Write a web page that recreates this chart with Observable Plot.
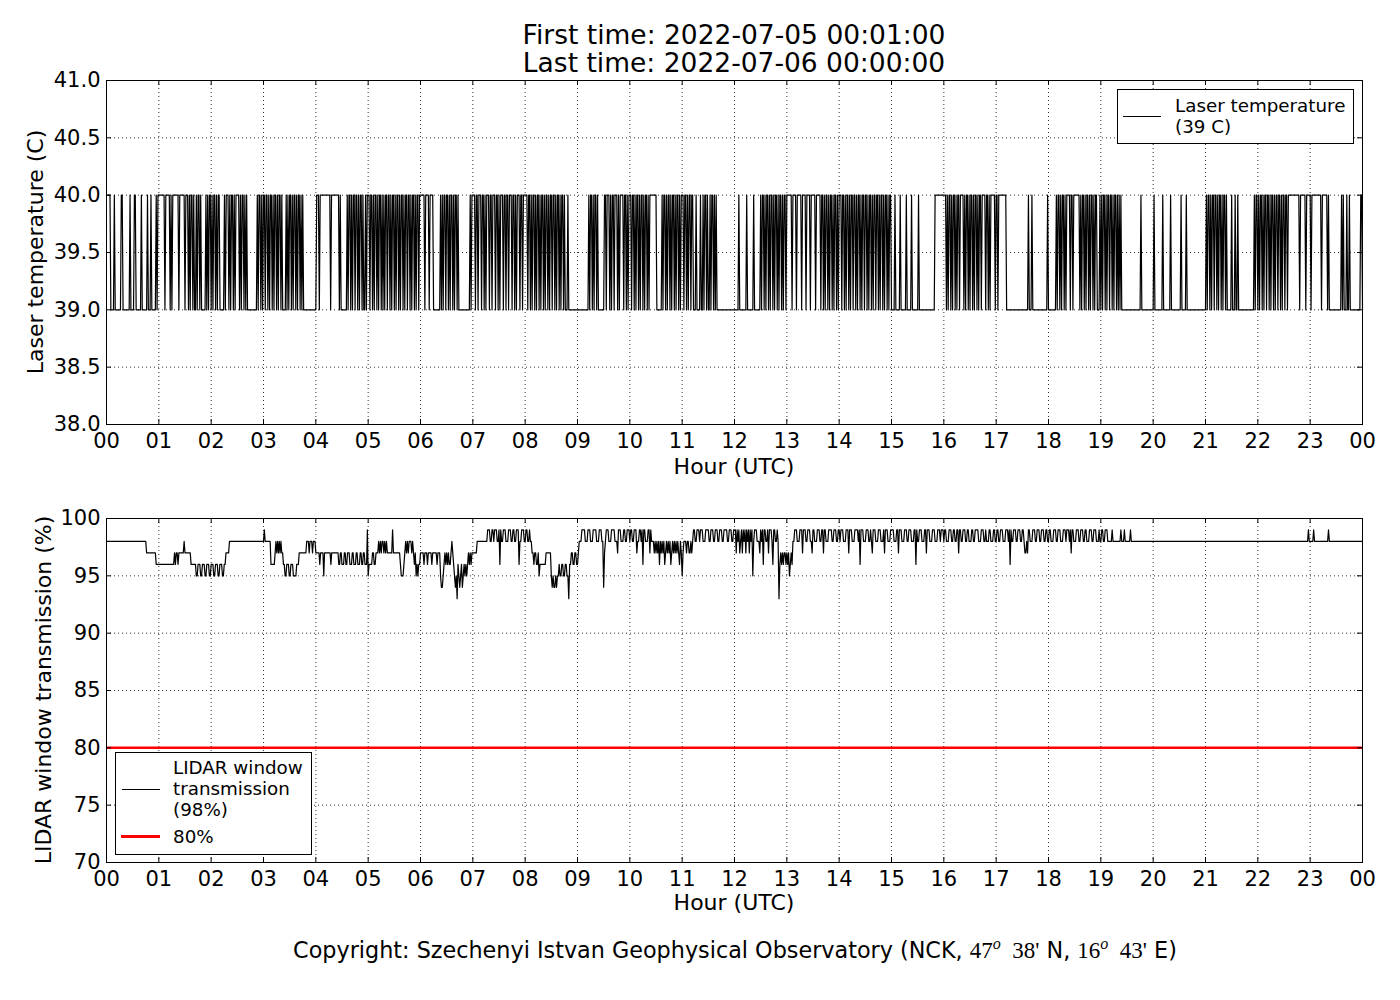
<!DOCTYPE html>
<html><head><meta charset="utf-8">
<script src="https://cdn.jsdelivr.net/npm/d3@7"></script>
<script src="https://cdn.jsdelivr.net/npm/@observablehq/plot@0.6"></script>
<style>
body{margin:0;background:#fff;font-family:"DejaVu Sans",sans-serif;color:#000;}
#wrap{position:relative;width:1400px;height:1000px;background:#fff;overflow:hidden;}
.abs{position:absolute;white-space:nowrap;}
.title{left:334px;width:800px;top:21px;text-align:center;font-size:26.5px;line-height:28px;}
.xlab{font-size:22px;transform:translate(-50%,-50%);}
.ylab{font-size:22px;transform:translate(-50%,-50%) rotate(-90deg);}
.legend{border:1px solid #000;background:#fff;box-sizing:border-box;}
.ltext{font-size:18.3px;line-height:21px;}
.foot{left:0;width:1470px;top:930px;text-align:center;font-size:22.3px;line-height:28px;}
.m{font-family:"Liberation Serif",serif;font-size:23px;}
.m sup{font-style:italic;font-size:16px;}
#p1{position:absolute;left:0;top:70px;}
#p2{position:absolute;left:0;top:500px;}
</style></head><body><div id="wrap">
<div class="abs title">First time: 2022-07-05 00:01:00<br>Last time: 2022-07-06 00:00:00</div>
<div id="p1"></div>
<div id="p2"></div>
<div class="abs xlab" style="left:734px;top:466px;">Hour (UTC)</div>
<div class="abs xlab" style="left:734px;top:902px;">Hour (UTC)</div>
<div class="abs ylab" style="left:35px;top:252px;">Laser temperature (C)</div>
<div class="abs ylab" style="left:43px;top:690px;">LIDAR window transmission (%)</div>
<div class="abs legend" style="left:1117px;top:89px;width:237px;height:55px;">
  <div class="abs" style="left:5px;top:26px;width:38px;height:0;border-top:1px solid #000;"></div>
  <div class="abs ltext" style="left:57px;top:5px;">Laser temperature<br>(39 C)</div>
</div>
<div class="abs legend" style="left:115px;top:752px;width:197px;height:103px;">
  <div class="abs" style="left:6px;top:36px;width:38px;height:0;border-top:1px solid #000;"></div>
  <div class="abs ltext" style="left:57px;top:4px;">LIDAR window<br>transmission<br>(98%)</div>
  <div class="abs" style="left:5px;top:82px;width:39px;height:0;border-top:3px solid #f00;"></div>
  <div class="abs ltext" style="left:57px;top:73px;">80%</div>
</div>
<div class="abs foot">Copyright: Szechenyi Istvan Geophysical Observatory (NCK, <span class="m">47<sup>o</sup>&nbsp;&nbsp;38'</span> N, <span class="m">16<sup>o</sup>&nbsp;&nbsp;43'</span> E)</div>
</div>
<script>
// Axis ticks
const xTickHours = [0,1,2,3,4,5,6,7,8,9,10,11,12,13,14,15,16,17,18,19,20,21,22,23,24];
const xTickLabels = ["00","01","02","03","04","05","06","07","08","09","10","11","12","13","14","15","16","17","18","19","20","21","22","23","00"];
const tempTicks = [38.0,38.5,39.0,39.5,40.0,40.5,41.0];
const tempTickLabels = ["38.0","38.5","39.0","39.5","40.0","40.5","41.0"];
const transTicks = [70,75,80,85,90,95,100];
const transTickLabels = ["70","75","80","85","90","95","100"];
const thresholdPct = [80];

// Laser temperature, one string per hour, one char per minute reading: "1" = 40 C, "0" = 39 C
const laserHours = [
"111100001000000011000000001000011000000100000010001000001011",
"111111011111010111111101111110111010110100101101000001010110",
"10110101100000101110101101011110101101010000000000010110101",
"101101011010110101101000010101101011010110101000000000000000",
"111011111111111101111111110100000001011010110110101101001011",
"101101011010110101011011010110101101011010110110101101011011",
"111101111011110000000010101101101011010110100000000000001011",
"110110111011010111011011101101011101101101110110101110110111",
"110110101101011010110101101011011010110101101000100000000000",
"000000000000101101011010000000110111010110111010111101101011",
"101101011010110101101011111111000000101101011010110101101011",
"101101011011000100001001011010010110101000000000000000000000",
"000010000000010000000100000001011010110101101011010110101101",
"111110111101111101111011110111110111110110101101011010110101",
"110110101101011011010110101101101011010110110101101011010110",
"000100000100000010000010000000100000000000000000011111111111",
"110101101011010110111101011010110101101011011110110101111101",
"101111111110000000000000000000000000100010000000000000000010",
"000000001011010110101111011011111110101101011010110101100010",
"101101011011010110101010000000000000000000000100000000000000",
"100000000010000000010000000000010000010000000000000000000000",
"101101011011010110101101000001000100100000000000000000010110",
"101101011011010110101101101011011011111111111110111111011111",
"011111111111011111101000000000000001010001001000000000000110"
];

// LIDAR window transmission, one string per hour, one digit per minute: value = 90 + digit (%)
const transHours = [
"888888888888888888888888888888888888888888888777777777776666",
"666666666666666667677677777787777777666666556665566655666556",
"665566655666556677778888888888888888888888888888888888888888",
"988888886666678787878776655666556665555666777777777888788878887",
"777767777577777777677777777766776667766777666776667766677667766695",
"666677667778787887878777777977777777655567878788878767565667",
"777677767777677777677754456767676678765453654564565656767677",
"777788888888888899988998999889698899988899988998899968899988",
"998898877677667566666667777775454454556556655665536677667766",
"788899998889998889999888999884789998889999888799988899889998",
"998899978899896998889979888787878687878678787867878787876875",
"788878877878998899989998889999889998899988999889999889998899",
"979897897989798979895899988879896998897999869988983676767767",
"675676889998889997999889998879988899988997998889999889998899",
"899988899979998889999896999888999889879998889998889799988899",
"998889979998889998899988899698899988899799988899988899989998",
"998889998899889979988999889988899889999888999889888998889988",
"998899988899989698899988999889987787998889998899988999889988",
"998889998899988899989998979988899988999889988899988999888988",
"998899988888988888888898889888888988888888888888888888888888",
"888888888888888888888888888888888888888888888888888888888888",
"888888888888888888888888888888888888888888888888888888888888",
"888888888888888888888888888888888888888888888888888888888988",
"888988888888888888889888888888888888888888888888888888888888"
];

function series(hours, toValue) {
  const out = [];
  hours.forEach((s, h) => {
    const n = s.length;
    for (let j = 0; j < n; j++) out.push({t: h + (j + 1) / n, v: toValue(s[j])});
  });
  return out;
}
const laser = series(laserHours, c => c === "1" ? 40 : 39);
const trans = series(transHours, c => 90 + Number(c));

const W = 1400, ML = 106, MR = 38;
const innerW = W - ML - MR;
const gridStyle = {stroke: "#000", strokeOpacity: 1, strokeWidth: 0.8, strokeDasharray: "1,3"};
const fmtX = d => xTickLabels[xTickHours.indexOf(d)];

function panel({height, mt, mb, yDomain, yTicks, yLabels, marks}) {
  const innerH = height - mt - mb;
  const fmtY = d => yLabels[yTicks.indexOf(d)];
  return Plot.plot({
    width: W, height, marginTop: mt, marginBottom: mb, marginLeft: ML, marginRight: MR,
    x: {domain: [0, 24]},
    y: {domain: yDomain},
    style: {fontFamily: "DejaVu Sans", fontSize: "21px", color: "#000", background: "transparent", overflow: "visible"},
    marks: [
      Plot.gridX(xTickHours, gridStyle),
      Plot.gridY(yTicks, gridStyle),
      ...marks,
      Plot.tickX(xTickHours, {x: d => d, insetTop: innerH - 5, stroke: "#000"}),
      Plot.tickX(xTickHours, {x: d => d, insetBottom: innerH - 5, stroke: "#000"}),
      Plot.tickY(yTicks, {y: d => d, insetRight: innerW - 5, stroke: "#000"}),
      Plot.tickY(yTicks, {y: d => d, insetLeft: innerW - 5, stroke: "#000"}),
      Plot.frame({stroke: "#000", strokeWidth: 1}),
      Plot.axisX(xTickHours, {tickSize: 0, tickPadding: 9, tickFormat: fmtX, label: null}),
      Plot.axisY(yTicks, {tickSize: 0, tickPadding: 6, tickFormat: fmtY, label: null})
    ]
  });
}

document.getElementById("p1").appendChild(panel({
  height: 420, mt: 10, mb: 66, yDomain: [38, 41], yTicks: tempTicks, yLabels: tempTickLabels,
  marks: [Plot.line(laser, {x: "t", y: "v", stroke: "#000", strokeWidth: 1.2})]
}));
document.getElementById("p2").appendChild(panel({
  height: 430, mt: 18, mb: 68, yDomain: [70, 100], yTicks: transTicks, yLabels: transTickLabels,
  marks: [
    Plot.line(trans, {x: "t", y: "v", stroke: "#000", strokeWidth: 1.2}),
    Plot.ruleY(thresholdPct, {stroke: "#f00", strokeWidth: 2.5})
  ]
}));
</script>
</body></html>
